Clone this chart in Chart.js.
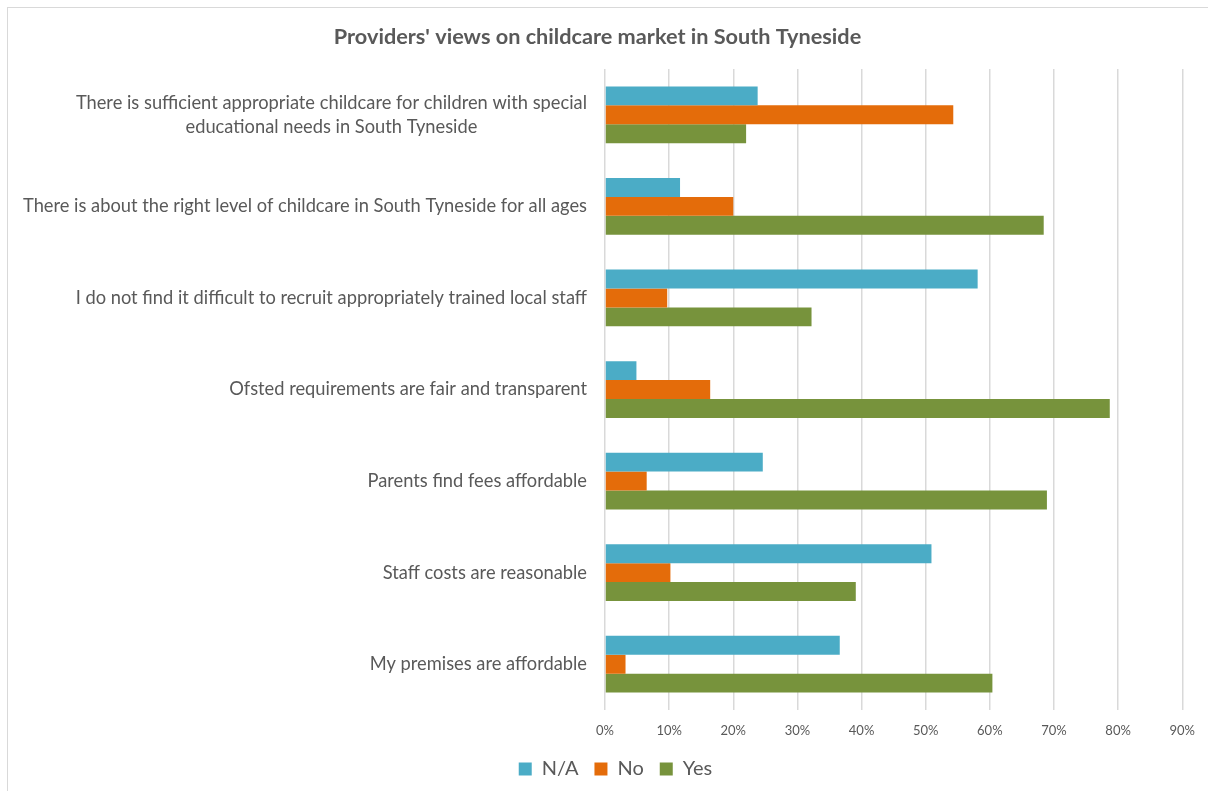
<!DOCTYPE html>
<html>
<head>
<meta charset="utf-8">
<script src="https://cdn.jsdelivr.net/npm/chart.js@4.4.1/dist/chart.umd.min.js"></script>
<style>
    html, body { margin: 0; padding: 0; background: #fff; overflow: hidden; }
    #moldura {
        position: absolute; left: 7px; top: 7px; width: 1210px; height: 800px;
        border: 1px solid #d9d9d9; box-sizing: border-box;
    }
    #caixa { position: absolute; left: 0; top: 0; width: 1208px; height: 791px; }
</style>
</head>
<body>
<div id="moldura"></div>
<div id="caixa"><canvas id="grafico"></canvas></div>
<script>
// categorias (de cima para baixo)
const categorias = [
    ["There is sufficient appropriate childcare for children with special", "educational needs in South Tyneside"],
    "There is about the right level of childcare in South Tyneside for all ages",
    "I do not find it difficult to recruit appropriately trained local staff",
    "Ofsted requirements are fair and transparent",
    "Parents find fees affordable",
    "Staff costs are reasonable",
    "My premises are affordable"
];

// valores em %
const valoresNA  = [23.8, 11.7, 58.1, 4.9, 24.6, 50.9, 36.6];
const valoresNo  = [54.3, 20.0, 9.7, 16.4, 6.5, 10.2, 3.2];
const valoresYes = [22.0, 68.4, 32.2, 78.7, 68.9, 39.1, 60.4];

const ticksX = [0, 10, 20, 30, 40, 50, 60, 70, 80, 90];

const corTexto = "#595959";
const fonte = "Lato, 'Open Sans', sans-serif";

// desenha os rótulos do eixo Y (linhas centralizadas entre si, bloco alinhado à direita)
const rotulosY = {
    id: "rotulosY",
    afterDraw(chart) {
        const eixo = chart.scales.y;
        const ctx = chart.ctx;
        ctx.save();
        ctx.font = "18.3px " + fonte;
        ctx.fillStyle = corTexto;
        ctx.textBaseline = "middle";
        ctx.textAlign = "center";
        categorias.forEach((rot, i) => {
            const linhas = Array.isArray(rot) ? rot : [rot];
            const larg = Math.max(...linhas.map(l => ctx.measureText(l).width));
            const cx = eixo.right - 18 - larg / 2;
            const alt = 24;
            const y0 = eixo.getPixelForValue(i) - (linhas.length - 1) * alt / 2;
            linhas.forEach((l, k) => ctx.fillText(l, cx, y0 + k * alt));
        });
        ctx.restore();
    }
};

// legenda mais baixa (altura fixa) e um pouco deslocada para a direita
const legendaCompacta = {
    id: "legendaCompacta",
    beforeUpdate(chart) {
        const leg = chart.legend;
        if (leg && !leg._compacta) {
            const fitOriginal = leg.fit.bind(leg);
            leg.fit = function () { fitOriginal(); this.height = 48; };
            leg._compacta = true;
        }
    },
    afterLayout(chart) {
        if (chart.legend) chart.legend.left += 36;
    }
};

const ctx = document.getElementById("grafico").getContext("2d");
new Chart(ctx, {
    type: "bar",
    data: {
        labels: categorias,
        datasets: [
            { label: "N/A", data: valoresNA,  backgroundColor: "#4BACC6" },
            { label: "No",  data: valoresNo,  backgroundColor: "#E46C0A" },
            { label: "Yes", data: valoresYes, backgroundColor: "#77933C" }
        ]
    },
    options: {
        indexAxis: "y",
        responsive: true,
        maintainAspectRatio: false,
        animation: false,
        categoryPercentage: 0.62,
        barPercentage: 1.0,
        layout: { padding: { left: 10, right: 23, top: 0, bottom: 0 } },
        plugins: {
            title: {
                display: true,
                text: "Providers' views on childcare market in South Tyneside",
                color: corTexto,
                font: { family: fonte, size: 21.7, weight: "bold" },
                padding: { top: 24, bottom: 19 }
            },
            legend: {
                position: "bottom",
                labels: {
                    color: corTexto,
                    font: { family: fonte, size: 20 },
                    boxWidth: 13,
                    boxHeight: 13,
                    padding: 16
                }
            },
            tooltip: { enabled: false }
        },
        scales: {
            x: {
                min: 0,
                max: 90,
                afterBuildTicks(eixo) { eixo.ticks = ticksX.map(v => ({ value: v })); },
                afterFit(eixo) { eixo.height = 33; },
                grid: { color: "#d9d9d9", lineWidth: 1.5, drawTicks: false },
                border: { display: false },
                ticks: {
                    color: corTexto,
                    font: { family: fonte, size: 13 },
                    padding: 13,
                    callback: v => v + "%"
                }
            },
            y: {
                grid: { display: false },
                border: { display: false },
                ticks: { display: false },
                afterFit(eixo) { eixo.width = 595; }
            }
        }
    },
    plugins: [rotulosY, legendaCompacta]
});
</script>
</body>
</html>
